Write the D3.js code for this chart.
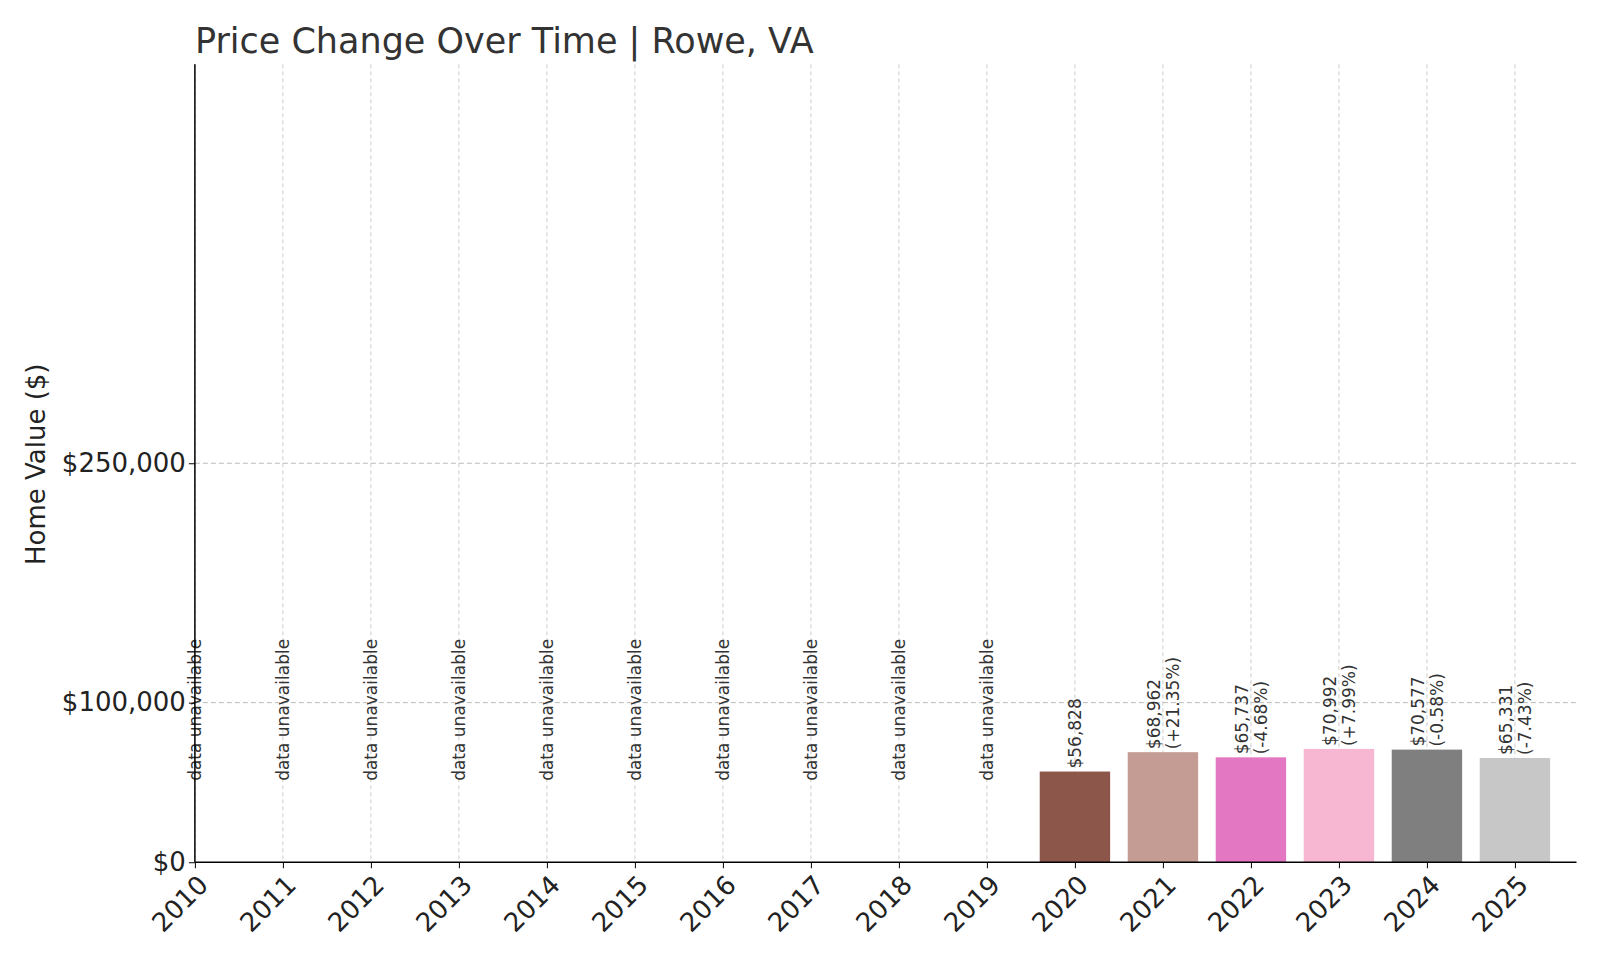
<!DOCTYPE html>
<html><head><meta charset="utf-8">
<script src="https://cdn.jsdelivr.net/npm/d3@7"></script>
<style>body{margin:0;background:#fff}text{font-family:"DejaVu Sans",sans-serif}</style>
</head><body><svg id="c" width="1600" height="960"></svg>
<script>
const years=[2010,2011,2012,2013,2014,2015,2016,2017,2018,2019,2020,2021,2022,2023,2024,2025];
const values=[null,null,null,null,null,null,null,null,null,null,56828,68962,65737,70992,70577,65331];
const changes=[null,null,null,null,null,null,null,null,null,null,null,"+21.35%","-4.68%","+7.99%","-0.58%","-7.43%"];
const colors=["#1f77b4","#aec7e8","#ff7f0e","#ffbb78","#2ca02c","#98df8a","#d62728","#ff9896","#9467bd","#c5b0d5","#8c564b","#c49c94","#e377c2","#f7b6d2","#7f7f7f","#c7c7c7"];
const yTicks=[0,100000,250000];
const svg=d3.select("#c");
const k=1600/1568;
const L=191*k,R=1545*k,T=63*k,B=845*k;
const x=d3.scaleLinear().domain([2010,2025.7]).range([L,R]);
const y=d3.scaleLinear().domain([0,500000]).range([B,T]);
const fmt=d3.format("$,");
svg.append("g").selectAll("line").data(years).join("line")
 .attr("x1",d=>x(d)).attr("x2",d=>x(d)).attr("y1",T).attr("y2",B)
 .attr("stroke","#ccc").attr("stroke-dasharray","4,3").attr("stroke-width",1);
svg.append("g").selectAll("line").data(yTicks.slice(1)).join("line")
 .attr("x1",L).attr("x2",R).attr("y1",d=>y(d)).attr("y2",d=>y(d))
 .attr("stroke","#bbb").attr("stroke-dasharray","5,3").attr("stroke-width",1);
const bw=x(2010.8)-x(2010);
const data=years.map((yr,i)=>({yr,v:values[i],c:changes[i],col:colors[i]}));
svg.append("g").selectAll("rect").data(data.filter(d=>d.v!=null)).join("rect")
 .attr("x",d=>x(d.yr)-bw/2).attr("width",bw).attr("y",d=>y(d.v)).attr("height",d=>B-y(d.v))
 .attr("fill",d=>d.col);
const lg=svg.append("g").attr("font-size",17).attr("fill","#333");
data.forEach(d=>{
  if(d.v==null){
    lg.append("text").attr("transform",`translate(${x(d.yr)+6},${y(51000)}) rotate(-90)`).text("data unavailable");
  } else if(d.c==null){
    lg.append("text").attr("transform",`translate(${x(d.yr)+6},${y(d.v)-3}) rotate(-90)`).text(fmt(d.v));
  } else {
    lg.append("text").attr("transform",`translate(${x(d.yr)-3},${y(d.v)-3}) rotate(-90)`).text(fmt(d.v));
    lg.append("text").attr("transform",`translate(${x(d.yr)+16},${y(d.v)-3}) rotate(-90)`).text(`(${d.c})`);
  }
});
const ya=svg.append("g").attr("transform",`translate(${L},0)`).call(d3.axisLeft(y).tickValues(yTicks).tickFormat(fmt).tickSize(6));
ya.select(".domain").attr("d",`M0,${T}V${B}`).attr("stroke","#000").attr("stroke-width",1.5);
ya.selectAll("text").attr("font-size",26).attr("fill","#222").attr("font-family","DejaVu Sans");
const xa=svg.append("g").attr("transform",`translate(0,${B})`).call(d3.axisBottom(x).tickValues(years).tickFormat(d3.format("d")).tickSize(6));
xa.select(".domain").attr("d",`M${L},0H${R}`).attr("stroke","#000").attr("stroke-width",1.5);
xa.selectAll("text").attr("font-size",26).attr("fill","#222").attr("font-family","DejaVu Sans")
 .attr("text-anchor","end").attr("dy","0").attr("transform","translate(8,18) rotate(-45)");
svg.append("text").attr("x",L).attr("y",52*k).attr("font-size",35).attr("fill","#333").text("Price Change Over Time | Rowe, VA");
svg.append("text").attr("transform",`translate(${44*k},${455*k}) rotate(-90)`).attr("text-anchor","middle").attr("font-size",26).attr("fill","#222").text("Home Value ($)");
</script></body></html>
